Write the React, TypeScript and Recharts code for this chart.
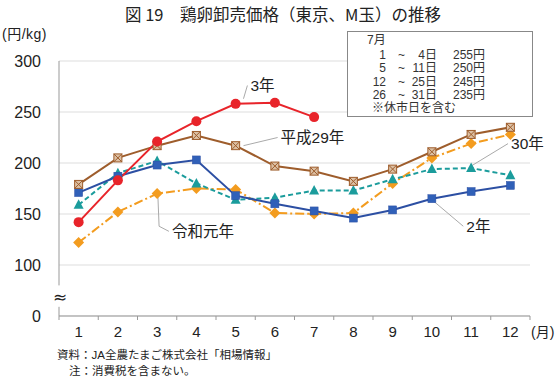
import React from "react";
import {
  LineChart,
  Line,
  XAxis,
  YAxis,
  CartesianGrid,
  ReferenceLine,
  ReferenceDot,
} from "recharts";

// 月
const months = [1, 2, 3, 4, 5, 6, 7, 8, 9, 10, 11, 12];
const monthLabels = ["1", "2", "3", "4", "5", "6", "7", "8", "9", "10", "11", "12"];

// 縦軸（0 は省略表示、100 より下は波線で切る）
const yTicks = [50, 100, 150, 200, 250, 300];
const yTickLabels = ["0", "100", "150", "200", "250", "300"];

// 円/kg
const h29 = [179, 205, 217, 227, 217, 197, 192, 182, 194, 211, 228, 235];
const h30 = [159, 190, 202, 180, 164, 166, 173, 173, 184, 194, 195, 188];
const r1 = [122, 152, 170, 175, 174, 151, 150, 151, 180, 205, 219, 228];
const r2 = [171, 187, 198, 203, 168, 160, 153, 146, 154, 165, 172, 178];
const r3 = [142, 183, 221, 241, 258, 259, 245];

// 7月の旬別価格
const julyRanges = [
  ["1", "4日", "255円"],
  ["5", "11日", "250円"],
  ["12", "25日", "245円"],
  ["26", "31日", "235円"],
];

const data = months.map((m, i) => ({
  month: m,
  h29: h29[i],
  h30: h30[i],
  r1: r1[i],
  r2: r2[i],
  r3: r3[i] ?? null,
}));

const W = 558;
const H = 384;
const M = { top: 61, right: 28, bottom: 0, left: 0 };
const Y_W = 59;
const X_H = 68;
const BAND = (W - M.left - M.right - Y_W) / months.length;

const NUM_FONT = "'Liberation Sans', Arial, 'Noto Sans CJK JP', sans-serif";
const JP_FONT = "'Liberation Sans', 'Noto Sans CJK JP', sans-serif";

const RED = "#e8242a";
const BROWN = "#9e5d2c";
const BLUE = "#2c4fa3";
const TEAL = "#1b9c9c";
const ORANGE = "#f39c1f";
const LEADER = "#aaaaaa";

const MonthTick = (props: any) => {
  const { x, y, index } = props;
  const label = monthLabels[index];
  if (!label) return null;
  return (
    <text
      x={x + BAND / 2}
      y={y}
      dy="0.71em"
      textAnchor="middle"
      fontSize={15}
      fontFamily={NUM_FONT}
      fill="#222"
    >
      {label}
    </text>
  );
};

const CrossSquare = (props: any) => {
  const { cx, cy } = props;
  if (cx == null || cy == null) return null;
  const s = 4;
  return (
    <g>
      <rect x={cx - s} y={cy - s} width={2 * s} height={2 * s} fill="#dcc0a4" stroke={BROWN} strokeWidth={1} />
      <line x1={cx - s} y1={cy - s} x2={cx + s} y2={cy + s} stroke={BROWN} strokeWidth={1} />
      <line x1={cx - s} y1={cy + s} x2={cx + s} y2={cy - s} stroke={BROWN} strokeWidth={1} />
    </g>
  );
};

const Square = (props: any) => {
  const { cx, cy } = props;
  if (cx == null || cy == null) return null;
  const s = 4;
  return <rect x={cx - s} y={cy - s} width={2 * s} height={2 * s} fill="#3060b8" stroke={BLUE} strokeWidth={0.5} />;
};

const Triangle = (props: any) => {
  const { cx, cy } = props;
  if (cx == null || cy == null) return null;
  const s = 5;
  return (
    <polygon
      points={`${cx},${cy - s - 0.5} ${cx - s},${cy + s * 0.8} ${cx + s},${cy + s * 0.8}`}
      fill={TEAL}
    />
  );
};

const Diamond = (props: any) => {
  const { cx, cy } = props;
  if (cx == null || cy == null) return null;
  const s = 5.5;
  return <polygon points={`${cx},${cy - s} ${cx + s},${cy} ${cx},${cy + s} ${cx - s},${cy}`} fill={ORANGE} />;
};

const note = (value: string) => ({
  value,
  position: "right" as const,
  offset: 3,
  fill: "#222",
  fontSize: 15.5,
  fontFamily: JP_FONT,
});

export default function App() {
  const boundaries = [months[0] - 0.5, ...months.map((m) => m + 0.5)];

  return (
    <div style={{ position: "absolute", left: 0, top: 0, width: W, height: H, background: "#fff", fontFamily: JP_FONT, color: "#222" }}>
      <div style={{ position: "absolute", left: 125, top: 2, whiteSpace: "nowrap", fontSize: 16.5, fontWeight: 400, fontFamily: "'Noto Sans CJK JP', sans-serif" }}>
        図 19　鶏卵卸売価格（東京、M玉）の推移
      </div>
      <div style={{ position: "absolute", left: 2, top: 23, fontSize: 14, letterSpacing: 0.5 }}>(円/kg)</div>

      <LineChart width={W} height={H} data={data} margin={M}>
        <CartesianGrid vertical={false} stroke="#dddddd" />
        <XAxis
          type="number"
          dataKey="month"
          domain={[0.5, 12.5]}
          ticks={boundaries}
          interval={0}
          height={X_H}
          tick={<MonthTick />}
          tickSize={4}
          tickMargin={6}
          stroke="#999"
          allowDataOverflow
        />
        <YAxis
          domain={[50, 300]}
          ticks={yTicks}
          width={Y_W}
          axisLine={false}
          tickLine={false}
          tickSize={0}
          tickMargin={18}
          tickFormatter={(v: number) => yTickLabels[yTicks.indexOf(v)] ?? ""}
          tick={{ fontSize: 16, fill: "#222", fontFamily: NUM_FONT }}
          allowDataOverflow
        />

        {/* 縦軸（波線部分で途切れる） */}
        <ReferenceLine segment={[{ x: 0.5, y: 300 }, { x: 0.5, y: 80 }]} stroke="#999" ifOverflow="visible" />
        <ReferenceLine segment={[{ x: 0.5, y: 59 }, { x: 0.5, y: 50 }]} stroke="#999" ifOverflow="visible" />

        {/* 引き出し線 */}
        <ReferenceLine segment={[{ x: 5.2, y: 263 }, { x: 5.3, y: 276 }]} stroke={LEADER} ifOverflow="visible" />
        <ReferenceLine segment={[{ x: 5.2, y: 217 }, { x: 6.07, y: 225 }]} stroke={LEADER} ifOverflow="visible" />
        <ReferenceLine segment={[{ x: 3.02, y: 167 }, { x: 3.05, y: 138 }]} stroke={LEADER} ifOverflow="visible" />
        <ReferenceLine segment={[{ x: 3.05, y: 138 }, { x: 3.3, y: 133 }]} stroke={LEADER} ifOverflow="visible" />
        <ReferenceLine segment={[{ x: 11, y: 197 }, { x: 11.94, y: 219 }]} stroke={LEADER} ifOverflow="visible" />
        <ReferenceLine segment={[{ x: 10, y: 164 }, { x: 10.8, y: 138 }]} stroke={LEADER} ifOverflow="visible" />

        <Line dataKey="r1" stroke={ORANGE} strokeWidth={2} strokeDasharray="9 3 2 3" dot={<Diamond />} isAnimationActive={false} />
        <Line dataKey="h30" stroke={TEAL} strokeWidth={2} strokeDasharray="5 3" dot={<Triangle />} isAnimationActive={false} />
        <Line dataKey="r2" stroke={BLUE} strokeWidth={2} dot={<Square />} isAnimationActive={false} />
        <Line dataKey="h29" stroke={BROWN} strokeWidth={2} dot={<CrossSquare />} isAnimationActive={false} />
        <Line dataKey="r3" stroke={RED} strokeWidth={2} dot={{ r: 5, fill: RED, stroke: RED, strokeWidth: 0 }} isAnimationActive={false} />

        <ReferenceDot x={5.3} y={276} r={0} stroke="none" ifOverflow="visible" label={note("3年")} />
        <ReferenceDot x={6.07} y={225} r={0} stroke="none" ifOverflow="visible" label={note("平成29年")} />
        <ReferenceDot x={3.3} y={133} r={0} stroke="none" ifOverflow="visible" label={note("令和元年")} />
        <ReferenceDot x={11.94} y={219} r={0} stroke="none" ifOverflow="visible" label={note("30年")} />
        <ReferenceDot x={10.8} y={138} r={0} stroke="none" ifOverflow="visible" label={note("2年")} />
      </LineChart>

      <div style={{ position: "absolute", left: 53, top: 287, width: 14, textAlign: "center", fontSize: 17, lineHeight: "20px", fontFamily: "'DejaVu Sans', sans-serif" }}>≈</div>
      <div style={{ position: "absolute", left: 531, top: 321, fontSize: 14 }}>(月)</div>

      {/* 7月の注記 */}
      <div style={{ position: "absolute", left: 347, top: 31, width: 186, height: 86, border: "1px solid #888", boxSizing: "border-box", background: "#fff", fontSize: 12, lineHeight: "14px", color: "#333" }}>
        <div style={{ position: "absolute", left: 19, top: 1 }}>7月</div>
        {julyRanges.map((r, i) => (
          <div key={i} style={{ position: "absolute", left: 0, top: 15.5 + i * 13.6, width: "100%" }}>
            <span style={{ position: "absolute", right: 146, textAlign: "right" }}>{r[0]}</span>
            <span style={{ position: "absolute", left: 50 }}>~</span>
            <span style={{ position: "absolute", right: 95, textAlign: "right" }}>{r[1]}</span>
            <span style={{ position: "absolute", left: 105 }}>{r[2]}</span>
          </div>
        ))}
        <div style={{ position: "absolute", left: 24, top: 69 }}>※休市日を含む</div>
      </div>

      <div style={{ position: "absolute", left: 57, top: 347, fontSize: 11.5, lineHeight: "16px" }}>
        資料：JA全農たまご株式会社「相場情報」
        <br />
        <span style={{ paddingLeft: 12 }}>注：消費税を含まない。</span>
      </div>
    </div>
  );
}
